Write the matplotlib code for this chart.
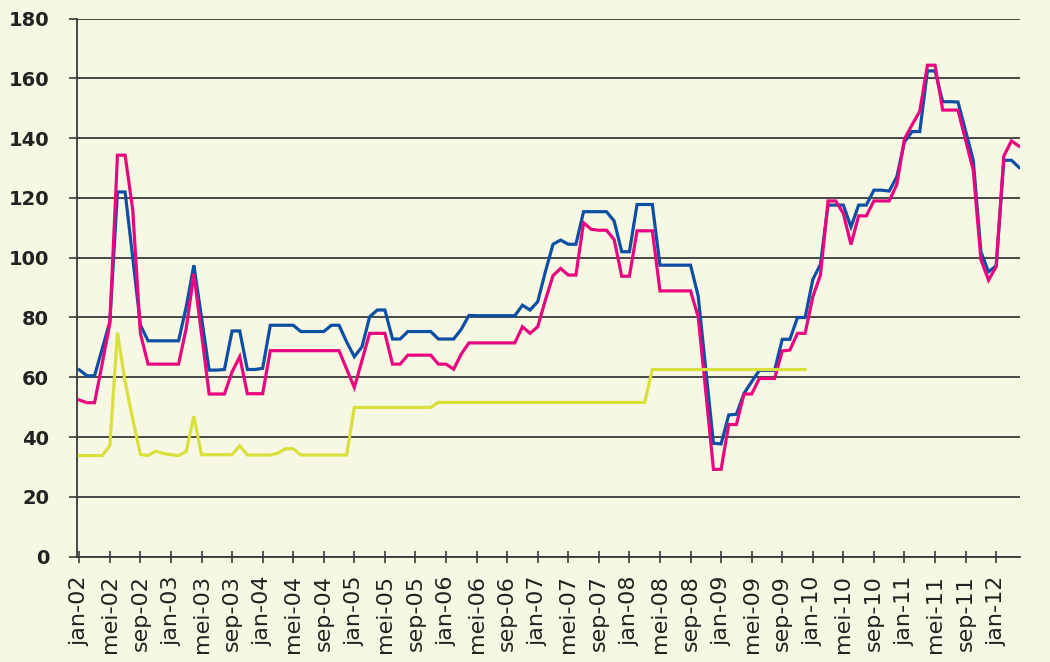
import numpy as np
import matplotlib.pyplot as plt

# monthly series, jan-02 .. apr-12
blue = [62.5, 60.5, 60.5, 69.5, 78.5, 122, 122, 100, 77.5, 72.2,
        72.2, 72.2, 72.2, 72.2, 83.6, 97.5, 80, 62.4, 62.4, 62.6,
        75.5, 75.5, 62.6, 62.6, 63, 77.4, 77.4, 77.4, 77.4, 75.3,
        75.3, 75.3, 75.3, 77.4, 77.4, 71.8, 66.9, 70.2, 80.2, 82.5,
        82.5, 72.8, 72.8, 75.3, 75.3, 75.3, 75.3, 72.8, 72.8, 72.8,
        76.1, 80.7, 80.6, 80.6, 80.6, 80.6, 80.6, 80.6, 84.1, 82.5,
        85.3, 95.3, 104.5, 105.9, 104.5, 104.5, 115.4, 115.4, 115.4, 115.4,
        112.3, 102, 102, 117.8, 117.8, 117.8, 97.5, 97.5, 97.5, 97.5,
        97.5, 87.2, 62.5, 37.9, 37.7, 47.4, 47.6, 54.6, 58.5, 62.3,
        62.3, 62.3, 72.7, 72.7, 80, 80, 92.7, 97.8, 117.6, 117.6,
        117.6, 110.3, 117.6, 117.6, 122.6, 122.6, 122.3, 127.1, 138.8, 142.2,
        142.2, 162.5, 162.5, 152.2, 152.2, 152.1, 142.4, 132.6, 102, 95.3,
        97.3, 132.6, 132.6, 130.2]

pink = [52.4, 51.5, 51.5, 64.5, 78, 134.3, 134.3, 116, 74.7, 64.4,
        64.4, 64.4, 64.4, 64.4, 76.4, 94.7, 74.5, 54.4, 54.4, 54.4,
        61.8, 66.9, 54.5, 54.5, 54.5, 68.9, 68.9, 68.9, 68.9, 68.9,
        68.9, 68.9, 68.9, 68.9, 68.9, 62.7, 56.6, 65.6, 74.7, 74.7,
        74.7, 64.4, 64.4, 67.4, 67.4, 67.4, 67.4, 64.4, 64.4, 62.7,
        67.8, 71.5, 71.5, 71.5, 71.5, 71.5, 71.5, 71.5, 76.9, 74.7,
        76.9, 85.8, 94, 96.4, 94.2, 94.2, 111.7, 109.5, 109.2, 109.2,
        106.1, 93.8, 93.8, 109, 109, 109, 88.9, 88.9, 88.9, 88.9,
        88.9, 80.2, 55, 29.2, 29.2, 44.2, 44.2, 54.4, 54.4, 59.6,
        59.6, 59.6, 68.8, 69.1, 74.7, 74.7, 86.9, 94.2, 119, 119,
        114.8, 104.4, 114, 114, 119, 119, 119, 124.5, 139.8, 144.5,
        149, 164.4, 164.4, 149.4, 149.4, 149.4, 139.3, 129.3, 99.4, 92.5,
        97, 134, 139.1, 137.3]

yellow = [33.8, 33.8, 33.8, 33.8, 37.1, 74.9, 58.5, 46, 34.2, 33.8,
          35.3, 34.5, 34.1, 33.8, 35.2, 47, 34.1, 34.1, 34.1, 34.1,
          34.1, 37.1, 34, 34, 34, 34, 34.6, 36.1, 36.1, 34,
          34, 34, 34, 34, 34, 34, 49.9, 49.9, 49.9, 49.9,
          49.9, 49.9, 49.9, 49.9, 49.9, 49.9, 49.9, 51.6, 51.6, 51.6,
          51.6, 51.6, 51.6, 51.6, 51.6, 51.6, 51.6, 51.6, 51.6, 51.6,
          51.6, 51.6, 51.6, 51.6, 51.6, 51.6, 51.6, 51.6, 51.6, 51.6,
          51.6, 51.6, 51.6, 51.6, 51.6, 62.6, 62.6, 62.6, 62.6, 62.6,
          62.6, 62.6, 62.6, 62.6, 62.6, 62.6, 62.6, 62.6, 62.6, 62.6,
          62.6, 62.6, 62.6, 62.6, 62.6, 62.6]

month_names = ['jan', 'feb', 'mrt', 'apr', 'mei', 'jun',
               'jul', 'aug', 'sep', 'okt', 'nov', 'dec']
start_year = 2002

bg = '#f7f8e4'
n = len(blue)
x = np.arange(n)
y_yellow = np.full(n, np.nan)
y_yellow[:len(yellow)] = yellow

fig = plt.figure(figsize=(10.5, 6.62), dpi=100, facecolor=bg)
ax = fig.add_axes([0.0733, 0.1592, 0.898, 0.8127], facecolor=bg)

ax.plot(x, blue, color='#0d4fa3', lw=2.3, solid_joinstyle='miter', zorder=3)
ax.plot(x, pink, color='#e8067f', lw=2.3, solid_joinstyle='miter', zorder=4)
ax.plot(x, y_yellow, color='#d9e03c', lw=2.3, solid_joinstyle='miter', zorder=5)

# axes styling
ax.set_xlim(-0.3, n - 0.9)
ax.set_ylim(0, 180)
ax.set_yticks(np.arange(0, 181, 20))
ax.yaxis.grid(True, color='#3a3a3a', lw=1.3)
ax.set_axisbelow(True)
for s in ['top', 'right']:
    ax.spines[s].set_visible(False)
for s in ['left', 'bottom']:
    ax.spines[s].set_color('#3a3a3a')
    ax.spines[s].set_linewidth(1.3)

tick_pos = np.arange(0, n, 4)
tick_lab = [f'{month_names[i % 12]}-{(start_year + i // 12) % 100:02d}' for i in tick_pos]
ax.set_xticks(tick_pos)
ax.set_xticklabels(tick_lab, rotation=90, fontsize=16, color='#222222')
ax.tick_params(axis='x', direction='inout', length=9, width=1.2, color='#3a3a3a', pad=9)
ax.tick_params(axis='y', direction='out', length=6, width=1.2, color='#3a3a3a', pad=14,
               labelsize=14, labelcolor='#222222')
for t in ax.get_yticklabels():
    t.set_fontweight('bold')

plt.savefig('out.png', dpi=100, facecolor=bg)
